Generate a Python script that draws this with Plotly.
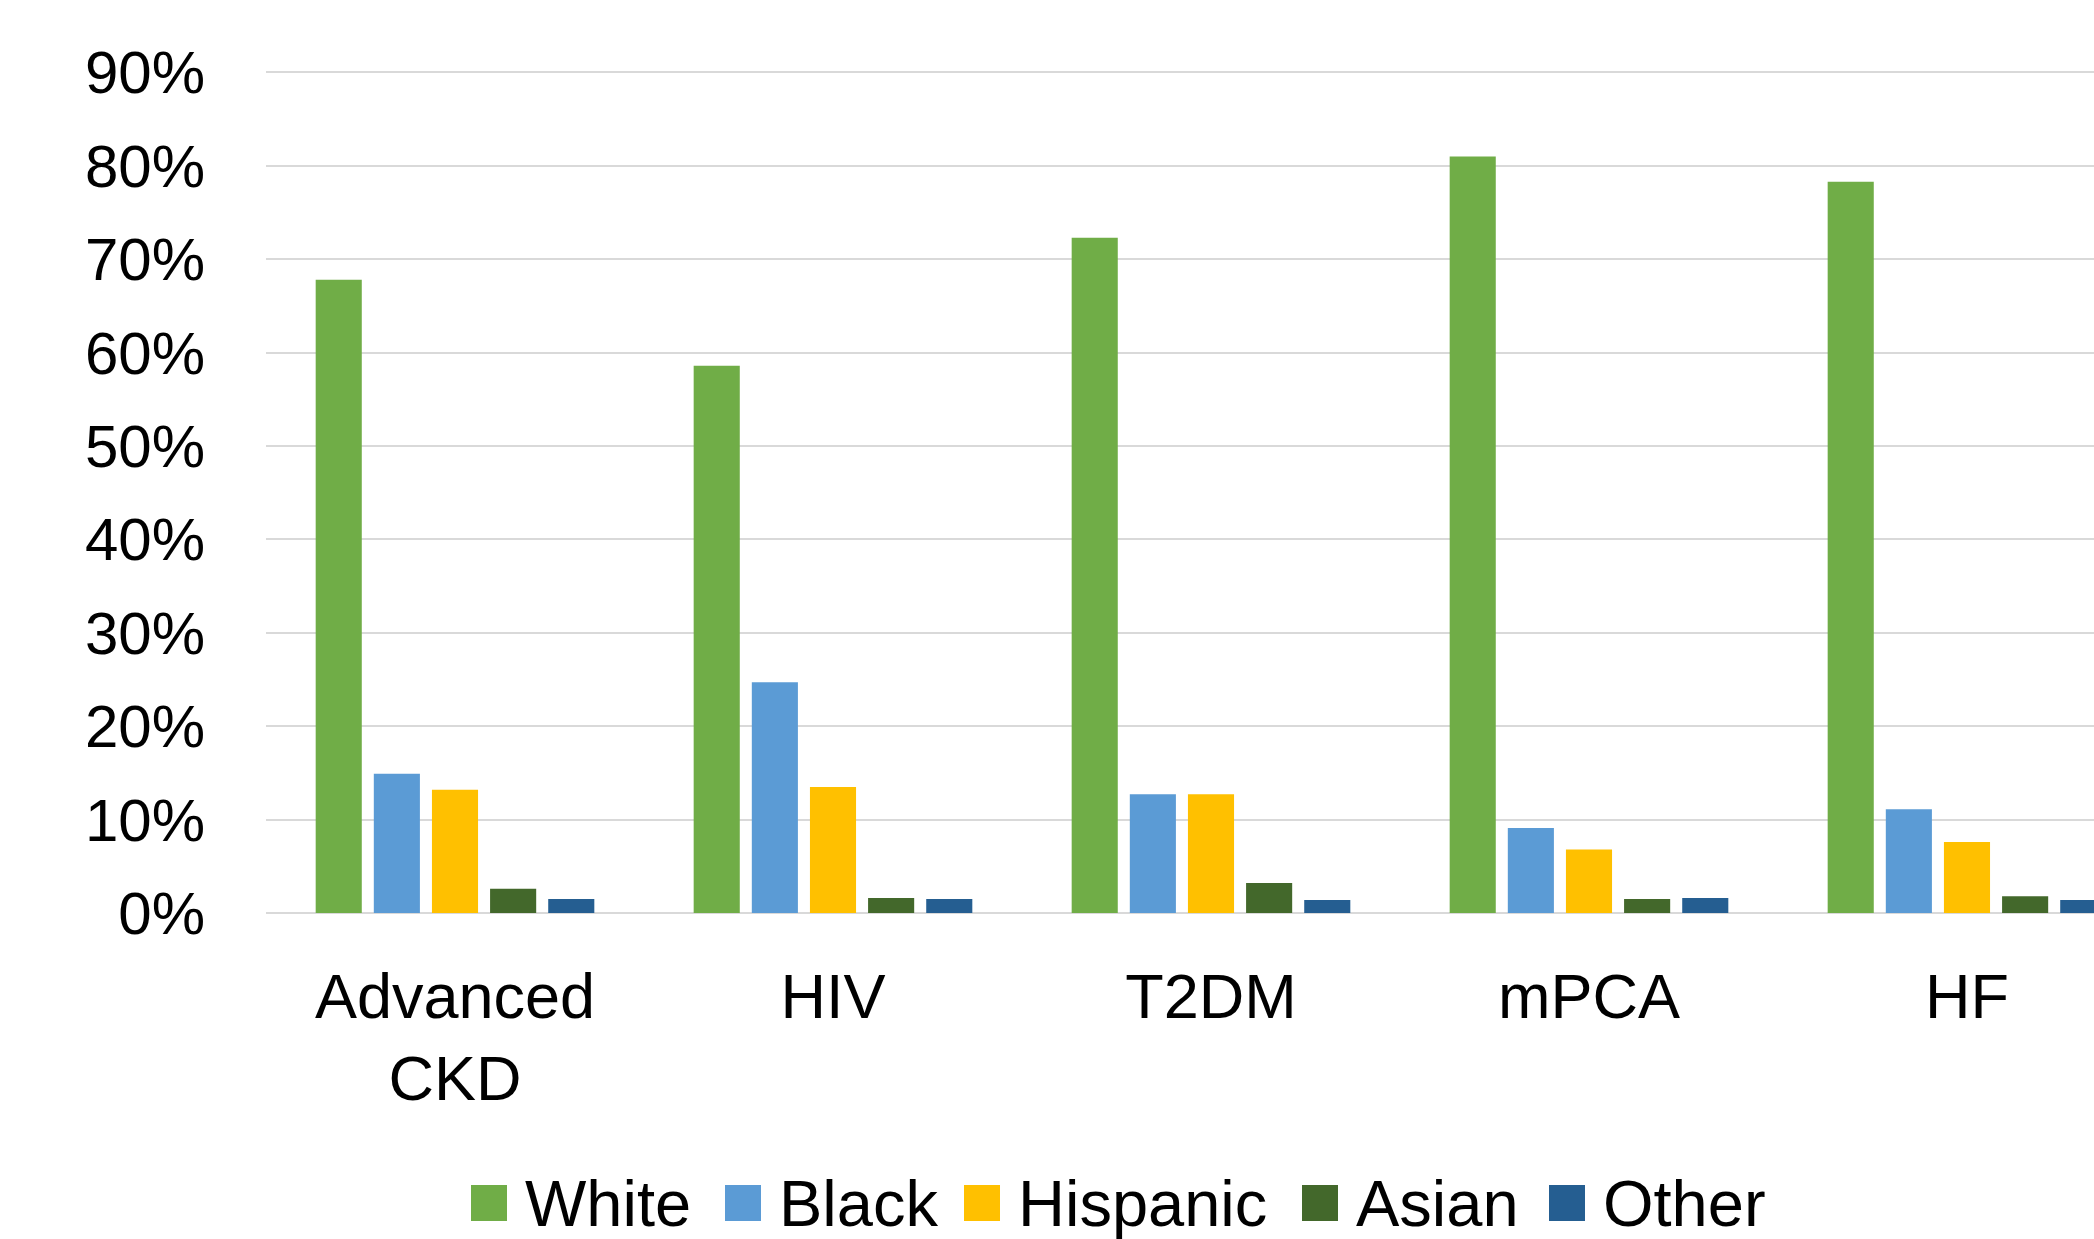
import plotly.graph_objects as go

# Patient race/ethnicity share by disease cohort
categories = ["Advanced<br>CKD", "HIV", "T2DM", "mPCA", "HF"]
series_names = ["White", "Black", "Hispanic", "Asian", "Other"]
white = [0.678, 0.586, 0.723, 0.810, 0.783]
black = [0.149, 0.247, 0.127, 0.091, 0.111]
hispanic = [0.132, 0.135, 0.127, 0.068, 0.076]
asian = [0.026, 0.016, 0.032, 0.015, 0.018]
other = [0.015, 0.015, 0.014, 0.016, 0.014]
y_ticks = [0, 0.1, 0.2, 0.3, 0.4, 0.5, 0.6, 0.7, 0.8, 0.9]

series_values = [white, black, hispanic, asian, other]
colors = ["#70AD47", "#5B9BD5", "#FFC000", "#43682B", "#255E91"]

W, H = 2094, 1239
ML, MR, MT, MB = 266, 0, 63, 326

fig = go.Figure()
for name, vals, col in zip(series_names, series_values, colors):
    fig.add_trace(go.Bar(
        name=name, x=categories, y=vals,
        marker=dict(color=col, line=dict(width=0)),
        showlegend=False,
    ))

# Legend drawn as large square swatches with labels underneath the chart
def px_to_paper_x(px):
    return (px - ML) / (W - ML - MR)

def px_to_paper_y(py):
    return (H - MB - py) / (H - MT - MB)

swatch_left = [471, 725, 964, 1302, 1549]
swatch_size = 36
legend_mid_y = 1203
for name, col, left in zip(series_names, colors, swatch_left):
    fig.add_shape(
        type="rect", xref="paper", yref="paper",
        x0=px_to_paper_x(left), x1=px_to_paper_x(left + swatch_size),
        y0=px_to_paper_y(legend_mid_y + swatch_size / 2),
        y1=px_to_paper_y(legend_mid_y - swatch_size / 2),
        fillcolor=col, line=dict(width=0),
    )
    fig.add_annotation(
        xref="paper", yref="paper",
        x=px_to_paper_x(left + 52), y=px_to_paper_y(legend_mid_y),
        text=name, showarrow=False, xanchor="left", yanchor="middle",
        font=dict(family="Liberation Sans, Arial", size=65, color="#000000"),
    )

fig.update_layout(
    width=W, height=H,
    margin=dict(l=ML, r=MR, t=MT, b=MB, pad=0),
    paper_bgcolor="white", plot_bgcolor="white",
    barmode="group", bargap=0.231, bargroupgap=0.207,
    showlegend=False,
    font=dict(family="Liberation Sans, Arial", color="#000000"),
)
fig.update_xaxes(
    range=[-0.5, 4.336],
    showgrid=False, showline=False, zeroline=False,
    ticks="", ticklabelstandoff=41,
    tickfont=dict(family="Liberation Sans, Arial", size=63, color="#000000"),
)
fig.update_yaxes(
    range=[0, 0.91],
    tickvals=y_ticks, tickformat=".0%",
    showgrid=True, gridcolor="#D9D9D9", gridwidth=1.5,
    zeroline=True, zerolinecolor="#D9D9D9", zerolinewidth=2,
    showline=False, ticks="", ticklabelstandoff=60,
    tickfont=dict(family="Liberation Sans, Arial", size=60, color="#000000"),
)

fig.write_html("out.html")
